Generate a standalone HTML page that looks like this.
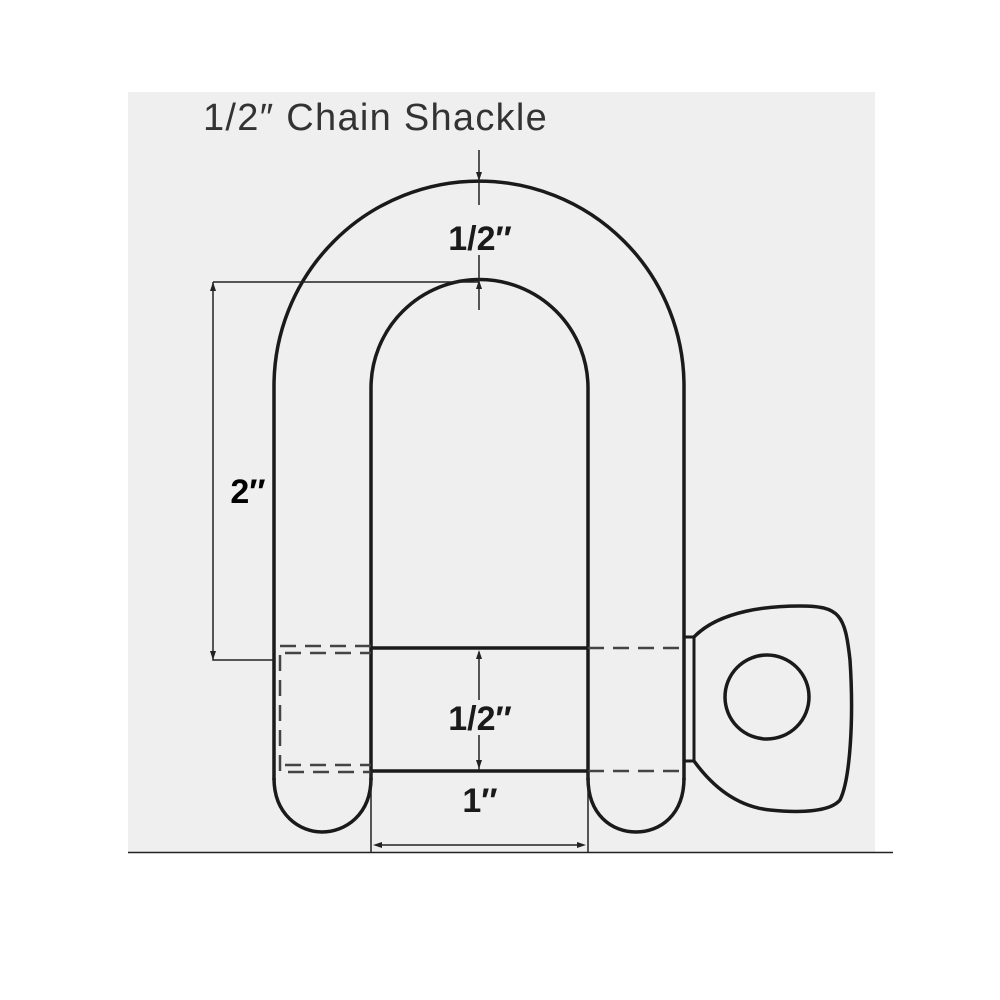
<!DOCTYPE html>
<html><head><style>body{margin:0;background:#fff}</style></head><body>
<svg width="1000" height="1000" viewBox="0 0 1000 1000" xmlns="http://www.w3.org/2000/svg" style="display:block">
<rect x="128" y="92" width="747" height="760" fill="#efefef"/>
<line x1="128" y1="852.5" x2="893" y2="852.5" stroke="#222" stroke-width="1.5"/>
<text x="203" y="130" font-family="Liberation Sans, sans-serif" font-size="38" letter-spacing="1.2" textLength="345" fill="#333">1/2″ Chain Shackle</text>
<g fill="none" stroke="#1a1a1a" stroke-width="3.5">
<path d="M274 780 L274 386 A205 205 0 0 1 684 386 L684 780"/>
<path d="M371 780 L371 388 A108.5 108.5 0 0 1 588 388 L588 780"/>
<path d="M274 778 C274 815 300 832 322 832 C345 832 371 815 371 778"/>
<path d="M588 778 C588 815 612 832 636 832 C660 832 684 815 684 778"/>
<line x1="371" y1="648" x2="588" y2="648"/>
<line x1="371" y1="771" x2="588" y2="771"/>
<rect x="684" y="637" width="10" height="124" stroke-width="3"/>
<path d="M694 637 C720 610 770 606 800 606 C840 606 845 615 850 660 C854 720 850 780 840 800 C830 812 800 813 770 810 C740 807 715 790 694 761"/>
<circle cx="767" cy="697" r="42"/>
</g>
<g fill="none" stroke="#444" stroke-width="2.5" stroke-dasharray="16 9">
<line x1="588" y1="648" x2="684" y2="648"/>
<line x1="588" y1="771" x2="684" y2="771"/>
<path d="M371 646 L280 646 L280 772 L371 772"/>
<line x1="285" y1="653" x2="371" y2="653"/>
<line x1="285" y1="765" x2="371" y2="765"/>
</g>
<g stroke="#222" stroke-width="1.5" fill="none">
<path d="M479 150 V205 M479 255 V310"/>
<path d="M213 282 H479 M213 282 V660 H274"/>
<path d="M479 652 V700 M479 735 V770"/>
<path d="M371 771 V852 M588 771 V852 M376 845 H583"/>
</g>
<g fill="#222">
<path d="M479 181 l-3 -9 h6z"/><path d="M479 280 l-3 9 h6z"/>
<path d="M213 282 l-3 9 h6z"/><path d="M213 660 l-3 -9 h6z"/>
<path d="M479 650 l-3 9 h6z"/><path d="M479 769 l-3 -9 h6z"/>
<path d="M373 845 l9 -3 v6z"/><path d="M586 845 l-9 -3 v6z"/>
</g>
<g font-family="Liberation Sans, sans-serif" font-weight="bold" font-size="34" fill="#1a1a1a" text-anchor="middle">
<text x="480" y="250">1/2″</text>
<text x="480" y="730">1/2″</text>
<text x="480" y="812">1″</text>
<text x="248" y="503" fill="#000">2″</text>
</g>
</svg>
</body></html>
